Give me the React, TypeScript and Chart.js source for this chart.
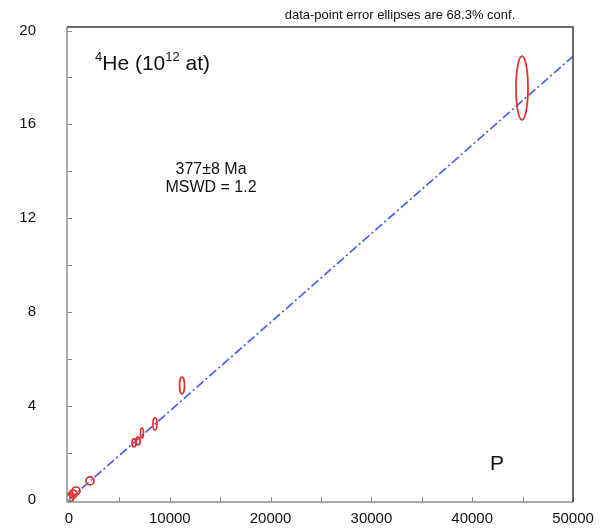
import React, { useEffect, useRef } from "react";
import { Chart, registerables } from "chart.js";

Chart.register(...registerables);

// Data (P units, 4He in 10^12 atoms) with ellipse half-axes
const pValues = [20, 100, 400, 690, 2080, 6450, 6850, 7240, 8530, 11210, 44940];
const heValues = [0.04, 0.11, 0.24, 0.37, 0.8, 2.42, 2.5, 2.84, 3.23, 4.87, 17.55];
const pErrors = [400, 400, 400, 400, 400, 200, 200, 150, 200, 250, 595];
const heErrors = [0.17, 0.17, 0.17, 0.17, 0.17, 0.17, 0.17, 0.21, 0.26, 0.36, 1.36];

// Isochron line end points
const lineP = [0, 50000];
const lineHe = [0, 18.9];

const xTickValues = [0, 10000, 20000, 30000, 40000, 50000];
const yTickValues = [0, 4, 8, 12, 16, 20];
const xMinorStep = 5000;
const yMinorStep = 2;

const noteText = "data-point error ellipses are 68.3% conf.";
const ageText = "377±8 Ma";
const mswdText = "MSWD = 1.2";
const panelLabel = "P";

const FONT = "'Liberation Sans', Arial, Helvetica, sans-serif";

const overlayPlugin = {
  id: "overlay",
  afterDatasetsDraw(chart: any) {
    const { ctx, scales, chartArea } = chart;
    const xs = scales.x;
    const ys = scales.y;
    ctx.save();
    ctx.beginPath();
    ctx.rect(chartArea.left, chartArea.top, chartArea.right - chartArea.left, chartArea.bottom - chartArea.top);
    ctx.clip();
    ctx.strokeStyle = "rgb(228,45,40)";
    ctx.lineWidth = 1.7;
    for (let i = 0; i < pValues.length; i++) {
      const cx = xs.getPixelForValue(pValues[i]);
      const cy = ys.getPixelForValue(heValues[i]);
      const rx = Math.abs(xs.getPixelForValue(pValues[i] + pErrors[i]) - cx);
      const ry = Math.abs(ys.getPixelForValue(heValues[i] + heErrors[i]) - cy);
      ctx.beginPath();
      ctx.ellipse(cx, cy, Math.max(rx, 0.5), Math.max(ry, 0.5), 0, 0, Math.PI * 2);
      ctx.stroke();
    }
    ctx.restore();
  },
  afterDraw(chart: any) {
    const { ctx, scales, chartArea } = chart;
    const xs = scales.x;
    const ys = scales.y;
    const { left, right, top, bottom } = chartArea;
    ctx.save();
    // minor/major ticks pointing inward
    ctx.strokeStyle = "#8a8a8a";
    ctx.lineWidth = 1;
    for (let v = 0; v <= 50000; v += xMinorStep) {
      const px = Math.round(xs.getPixelForValue(v)) + 0.5;
      ctx.beginPath();
      ctx.moveTo(px, bottom);
      ctx.lineTo(px, bottom - 5);
      ctx.stroke();
    }
    for (let v = 0; v <= 20; v += yMinorStep) {
      const py = Math.round(ys.getPixelForValue(v)) + 0.5;
      ctx.beginPath();
      ctx.moveTo(left, py);
      ctx.lineTo(left + 5, py);
      ctx.stroke();
    }
    // frame
    ctx.lineWidth = 1.5;
    ctx.strokeStyle = "#8f8f8f";
    ctx.beginPath();
    ctx.moveTo(left, top);
    ctx.lineTo(left, bottom);
    ctx.lineTo(right, bottom);
    ctx.stroke();
    ctx.strokeStyle = "#3a3a3a";
    ctx.beginPath();
    ctx.moveTo(left, top);
    ctx.lineTo(right, top);
    ctx.lineTo(right, bottom);
    ctx.stroke();

    // texts
    ctx.fillStyle = "#111";
    ctx.textBaseline = "alphabetic";
    ctx.textAlign = "center";
    ctx.font = `13px ${FONT}`;
    ctx.fillText(noteText, 400, 19);

    // 4He (10^12 at)
    ctx.textAlign = "left";
    let x = 95;
    const base = 70;
    const parts: [string, number, number][] = [
      ["4", 13, -9],
      ["He (10", 21, 0],
      ["12", 13, -9],
      [" at)", 21, 0],
    ];
    for (const [t, size, dy] of parts) {
      ctx.font = `${size}px ${FONT}`;
      ctx.fillText(t, x, base + dy);
      x += ctx.measureText(t).width;
    }

    ctx.textAlign = "center";
    ctx.font = `16px ${FONT}`;
    ctx.fillText(ageText, 211, 174);
    ctx.fillText(mswdText, 211, 192);

    ctx.font = `21px ${FONT}`;
    ctx.fillText(panelLabel, 497, 470);
    ctx.restore();
  },
};

export default function App() {
  const ref = useRef<HTMLCanvasElement | null>(null);
  useEffect(() => {
    if (!ref.current) return;
    const chart = new Chart(ref.current, {
      type: "scatter",
      data: {
        datasets: [
          {
            data: lineP.map((p, i) => ({ x: p, y: lineHe[i] })),
            showLine: true,
            borderColor: "rgb(75,95,235)",
            borderWidth: 1.7,
            borderDash: [9, 3, 2, 3],
            pointRadius: 0,
            fill: false,
          },
        ],
      },
      options: {
        animation: false,
        responsive: false,
        maintainAspectRatio: false,
        layout: { padding: { top: 27, right: 33, left: 0, bottom: 0 } },
        plugins: { legend: { display: false }, tooltip: { enabled: false } },
        scales: {
          x: {
            type: "linear",
            min: -200,
            max: 50000,
            grid: { display: false, drawTicks: false },
            border: { display: false },
            afterBuildTicks: (s: any) => {
              s.ticks = xTickValues.map((v) => ({ value: v }));
            },
            afterFit: (s: any) => {
              s.height = 29;
              s.paddingLeft = 0;
              s.paddingRight = 0;
            },
            ticks: {
              padding: 8,
              color: "#111",
              font: { family: FONT, size: 15 },
              callback: (v: any) => String(v),
            },
          },
          y: {
            type: "linear",
            min: -0.1,
            max: 20.15,
            grid: { display: false, drawTicks: false },
            border: { display: false },
            afterBuildTicks: (s: any) => {
              s.ticks = yTickValues.map((v) => ({ value: v }));
            },
            afterFit: (s: any) => {
              s.width = 67;
              s.paddingTop = 0;
              s.paddingBottom = 0;
            },
            ticks: {
              padding: 31,
              color: "#111",
              font: { family: FONT, size: 15 },
              callback: (v: any) => String(v),
            },
          },
        },
      },
      plugins: [overlayPlugin],
    });
    return () => chart.destroy();
  }, []);
  return (
    <div style={{ position: "fixed", left: 0, top: 0, width: 606, height: 531, background: "#fff" }}>
      <canvas ref={ref} width={606} height={531} style={{ width: 606, height: 531, display: "block" }} />
    </div>
  );
}
